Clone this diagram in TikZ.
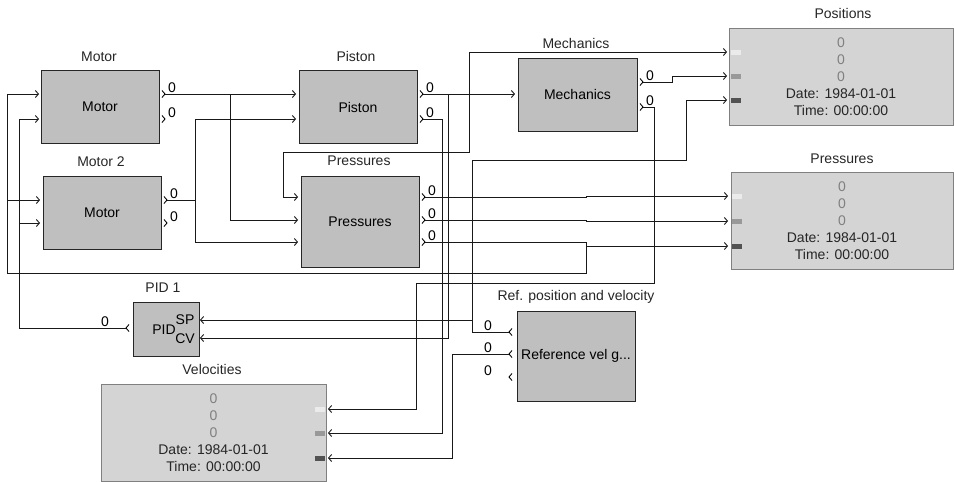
\documentclass[tikz,border=0pt]{standalone}
\usepackage{fontspec}
\setmainfont{Liberation Sans}
\usetikzlibrary{arrows.meta, positioning}

\newcommand\dgfont{\fontsize{14}{17}\selectfont}
\newcommand\readout{\textcolor{black!50}{0}\\\textcolor{black!50}{0}\\
  \textcolor{black!50}{0}\\Date: 1984-01-01\\Time: 00:00:00}

\begin{document}
\begin{tikzpicture}[
    x=1pt, y=-1pt,
    wire/.style={draw=black!90, line width=0.9pt},
    inwire/.style={wire, -{Straight Barb[length=3pt, width=7pt, line width=0.9pt]}},
    blk/.style={draw=black!85, fill=black!25, line width=0.9pt, minimum width=118pt,
                minimum height=73pt, inner sep=0pt, font=\dgfont},
    disp/.style={draw=black!50, fill=black!17, line width=0.9pt, minimum width=224pt,
                 minimum height=97pt, inner sep=0pt, align=center, font=\dgfont,
                 text=black!85},
    ttl/.style={font=\dgfont, text=black!85, inner sep=0pt, text height=10pt,
                text depth=0pt},
    plbl/.style={font=\dgfont, inner sep=0pt, text height=10pt, text depth=0pt},
    lampA/.style={fill=black!8},
    lampB/.style={fill=black!40},
    lampC/.style={fill=black!68},
    oport/.pic={\draw[line width=0.9pt] (-3,-3.5) -- (0,0) -- (-3,3.5);},
    fport/.pic={\draw[line width=0.9pt] (3,-3.5) -- (0,0) -- (3,3.5);}
  ]
  \useasboundingbox (0,0) rectangle (954,482);

  % blocks
  \node[blk] (motA) at (100,106.5) {Motor};
  \node[blk] (motB) at (102,212.5) {Motor};
  \node[blk] (piston) at (358,107) {Piston};
  \node[blk, minimum height=91pt] (press) at (360,221.5) {Pressures};
  \node[blk, minimum width=119pt] (mech) at (577.5,94.5) {Mechanics};
  \node[blk, minimum width=66pt, minimum height=54pt] (pid) at (166,329) {};
  \node[blk, minimum height=90pt] (refg) at (576,356) {Reference vel g...};

  % displays
  \node[disp] (pos) at (841,76.5) {\readout};
  \node[disp, minimum width=222pt] (pdisp) at (842,220.5) {\readout};
  \node[disp, minimum width=225pt] (vel) at (213.5,432.5) {\readout};
  \fill[lampA] (731,49.5) rectangle ++(10,5);
  \fill[lampB] (731,73.5) rectangle ++(10,5);
  \fill[lampC] (731,97.5) rectangle ++(10,5);
  \fill[lampA] (732,193.5) rectangle ++(10,5);
  \fill[lampB] (732,218.5) rectangle ++(10,5);
  \fill[lampC] (732,243.5) rectangle ++(10,5);
  \fill[lampA] (315,406.5) rectangle ++(10,5);
  \fill[lampB] (315,430.5) rectangle ++(10,5);
  \fill[lampC] (315,455.5) rectangle ++(10,5);

  % titles
  \node[ttl] (motA-t) at (99,56) {Motor};
  \node[ttl] (motB-t) at (101,161) {Motor 2};
  \node[ttl] (piston-t) at (356,56) {Piston};
  \node[ttl] (press-t) at (359,160) {Pressures};
  \node[ttl] (mech-t) at (576,43) {Mechanics};
  \node[ttl] (pid-t) at (163,287) {PID 1};
  \node[ttl] (refg-t) at (576,295) {Ref. position and velocity};
  \node[ttl] (pos-t) at (843,13) {Positions};
  \node[ttl] (pdisp-t) at (842,158) {Pressures};
  \node[ttl] (vel-t) at (212,369) {Velocities};

  % PID face
  \node[plbl] (pid-l) at (164,329) {PID};
  \node[plbl] (pid-spl) at (185,319) {SP};
  \node[plbl] (pid-cvl) at (185,338) {CV};

  % ports
  \coordinate (motA-i1) at (39,94);   \coordinate (motA-i2) at (39,119);
  \coordinate (motA-o1) at (165,94);  \coordinate (motA-o2) at (165,119);
  \coordinate (motB-i1) at (40,200);  \coordinate (motB-i2) at (40,223);
  \coordinate (motB-o1) at (167,200); \coordinate (motB-o2) at (167,223);
  \coordinate (piston-i1) at (296,94);  \coordinate (piston-i2) at (296,119);
  \coordinate (piston-o1) at (423,94);  \coordinate (piston-o2) at (423,119);
  \coordinate (press-i1) at (298,197);  \coordinate (press-i2) at (298,220);
  \coordinate (press-i3) at (298,242);
  \coordinate (press-o1) at (425,197);  \coordinate (press-o2) at (425,220);
  \coordinate (press-o3) at (425,242);
  \coordinate (mech-i) at (515,94);
  \coordinate (mech-o1) at (643,82);  \coordinate (mech-o2) at (643,107);
  \coordinate (pos-i1) at (727,52);   \coordinate (pos-i2) at (727,76);
  \coordinate (pos-i3) at (727,100);
  \coordinate (pdisp-i1) at (728,196); \coordinate (pdisp-i2) at (728,221);
  \coordinate (pdisp-i3) at (728,246);
  \coordinate (vel-i1) at (328,409);  \coordinate (vel-i2) at (328,433);
  \coordinate (vel-i3) at (328,458);
  \coordinate (pid-sp) at (200,320);  \coordinate (pid-cv) at (200,338);
  \coordinate (pid-o) at (126,328);
  \coordinate (refg-o1) at (509,332); \coordinate (refg-o2) at (509,354);
  \coordinate (refg-o3) at (509,377);

  \foreach \p in {motA-o1, motA-o2, motB-o1, motB-o2, piston-o1, piston-o2,
                  press-o1, press-o2, press-o3, mech-o1, mech-o2}
    \pic at (\p) {oport};
  \foreach \p in {pid-o, refg-o1, refg-o2, refg-o3}
    \pic at (\p) {fport};

  % output values
  \foreach \p in {motA-o1, motA-o2, motB-o1, motB-o2, piston-o1, piston-o2,
                  press-o1, press-o2, press-o3, mech-o1, mech-o2}
    \node[plbl, above right=1pt and 3pt of \p] (\p-v) {0};
  \foreach \p in {pid-o, refg-o1, refg-o2, refg-o3}
    \node[plbl, above left=1pt and 17pt of \p] (\p-v) {0};

  % junctions
  \coordinate (jA) at (230,94);
  \coordinate (jB) at (195,200);
  \coordinate (jC) at (469,94);
  \coordinate (jD) at (448,94);
  \coordinate (jE) at (472,320);
  \coordinate (jF) at (586,242);
  \coordinate (jG) at (7,200);
  \coordinate (jH) at (19,223);

  % wires
  \draw[inwire] (motA-o1) -- (piston-i1);
  \draw[inwire] (jA) |- (press-i2);
  \draw[wire] (motB-o1) -- (jB);
  \draw[inwire] (jB) |- (piston-i2);
  \draw[inwire] (jB) |- (press-i3);
  \draw[inwire] (piston-o1) -- (mech-i);
  \draw[inwire] (jC) |- (pos-i1);
  \draw[inwire] (jC) -- (469,152) -- (283,152) |- (press-i1);
  \draw[inwire] (jD) |- (pid-cv);
  \draw[inwire] (piston-o2) -- (442,119) |- (vel-i2);
  \draw[inwire] (mech-o1) -- (672,82) -- (672,76) -- (pos-i2);
  \draw[inwire] (mech-o2) -- (654,107) -- (654,283) -- (416,283) |- (vel-i1);
  \draw[inwire] (refg-o1) -- (472,332) -- (472,160) -- (686,160) |- (pos-i3);
  \draw[inwire] (jE) -- (pid-sp);
  \draw[inwire] (refg-o2) -- (452,354) |- (vel-i3);
  \draw[inwire] (press-o1) -- (586,197) -- (586,196) -- (pdisp-i1);
  \draw[inwire] (press-o2) -- (586,220) -- (586,221) -- (pdisp-i2);
  \draw[inwire] (press-o3) -- (jF) |- (pdisp-i3);
  \draw[inwire] (jF) -- (586,273) -- (7,273) |- (motA-i1);
  \draw[inwire] (jG) -- (motB-i1);
  \draw[inwire] (pid-o) -- (19,328) |- (motA-i2);
  \draw[inwire] (jH) -- (motB-i2);
\end{tikzpicture}
\end{document}
